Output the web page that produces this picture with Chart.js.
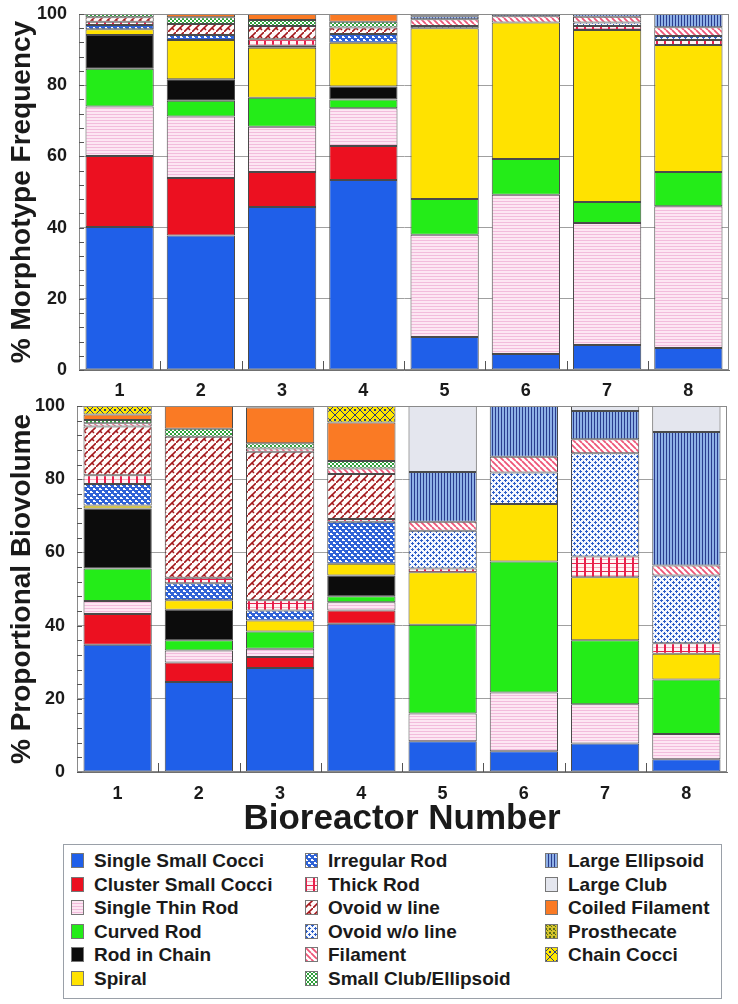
<!DOCTYPE html>
<html>
<head>
<meta charset="utf-8">
<script src="https://cdn.jsdelivr.net/npm/chart.js@4.4.1/dist/chart.umd.min.js"></script>
<style>
  body { margin: 0; background: #fff; width: 738px; height: 1004px; position: relative; overflow: hidden;
         font-family: "Liberation Sans", Arial, sans-serif; }
  #freqChart { position: absolute; left: 0; top: 0; }
  #bioChart { position: absolute; left: 0; top: 395px; }
  #legend { position: absolute; left: 63px; top: 844px; width: 659px; height: 155px;
            border: 1px solid #9aa0a8; box-sizing: border-box; }
  .item { position: absolute; height: 20px; font-weight: bold; font-size: 19px; color: #1a1a1a; white-space: nowrap; }
  .item canvas { position: absolute; left: 0; top: 2px; }
  .item span { position: absolute; left: 23px; top: 0; line-height: 20px; }
</style>
</head>
<body>
<canvas id="freqChart" width="738" height="420"></canvas>
<canvas id="bioChart" width="738" height="445"></canvas>
<div id="legend"></div>
<script>
const bioreactors = ['1', '2', '3', '4', '5', '6', '7', '8'];
const morphotypes = ['Single Small Cocci', 'Cluster Small Cocci', 'Single Thin Rod', 'Curved Rod', 'Rod in Chain', 'Spiral',
    'Irregular Rod', 'Thick Rod', 'Ovoid w line', 'Ovoid w/o line', 'Filament', 'Small Club/Ellipsoid',
    'Large Ellipsoid', 'Large Club', 'Coiled Filament', 'Prosthecate', 'Chain Cocci'];
const yTicks = [0, 20, 40, 60, 80, 100];

// % Morphotype Frequency (top panel)
const freqSingleSmallCocci  = [40.2, 37.8, 45.8, 53.4, 9.3, 4.5, 7.0, 6.2];
const freqClusterSmallCocci = [19.9, 16.1, 9.8, 9.5, 0, 0, 0, 0];
const freqSingleThinRod     = [13.9, 17.3, 12.7, 10.6, 28.7, 44.7, 34.3, 39.8];
const freqCurvedRod         = [10.6, 4.4, 8.2, 2.5, 10.0, 10.1, 5.9, 9.6];
const freqRodInChain        = [9.5, 6.1, 0, 3.6, 0, 0, 0, 0];
const freqSpiral            = [1.6, 11.0, 14.0, 12.3, 48.0, 38.3, 48.3, 35.7];
const freqIrregularRod      = [1.2, 1.4, 0.6, 2.5, 0, 0, 0, 0];
const freqThickRod          = [0.9, 0, 1.8, 0, 0, 0, 1.1, 1.4];
const freqOvoidLine         = [1.3, 3.1, 3.7, 1.8, 0, 0, 0, 0];
const freqOvoidNoLine       = [0, 0, 0, 0, 0.6, 0, 1.0, 1.1];
const freqFilament          = [0, 0, 0, 0, 1.9, 1.8, 1.6, 2.5];
const freqSmallClub         = [0.9, 1.9, 1.7, 1.6, 0, 0, 0, 0];
const freqLargeEllipsoid    = [0, 0, 0, 0, 0.9, 0.6, 0.8, 3.7];
const freqLargeClub         = [0, 0, 0, 0, 0.6, 0, 0, 0];
const freqCoiledFilament    = [0, 0.9, 1.7, 2.2, 0, 0, 0, 0];
const freqProsthecate       = [0, 0, 0, 0, 0, 0, 0, 0];
const freqChainCocci        = [0, 0, 0, 0, 0, 0, 0, 0];

// % Proportional Biovolume (bottom panel)
const bioSingleSmallCocci  = [34.8, 24.6, 28.4, 40.5, 8.4, 5.7, 7.8, 3.5];
const bioClusterSmallCocci = [8.4, 5.3, 3.0, 3.6, 0, 0, 0, 0];
const bioSingleThinRod     = [3.5, 3.3, 2.3, 2.3, 7.6, 16.0, 10.7, 6.9];
const bioCurvedRod         = [8.9, 2.8, 4.7, 1.6, 24.2, 35.8, 17.5, 14.9];
const bioRodInChain        = [16.4, 8.3, 0, 5.7, 0, 0, 0, 0];
const bioSpiral            = [0.8, 2.6, 3.0, 3.2, 14.4, 15.7, 17.2, 7.0];
const bioIrregularRod      = [5.9, 4.7, 2.7, 11.5, 0, 0, 0, 0];
const bioThickRod          = [2.4, 1.5, 2.8, 0.7, 1.0, 0, 5.7, 2.9];
const bioOvoidLine         = [13.3, 38.5, 40.6, 12.3, 0, 0, 0, 0];
const bioOvoidNoLine       = [0, 0, 0, 0, 10.3, 8.6, 28.2, 18.5];
const bioFilament          = [0.9, 0, 0.9, 1.5, 2.5, 4.3, 3.8, 2.7];
const bioSmallClub         = [0.9, 2.2, 1.4, 2.1, 0, 0, 0, 0];
const bioLargeEllipsoid    = [0, 0, 0, 0, 13.6, 13.9, 7.7, 36.5];
const bioLargeClub         = [0, 0, 0, 0, 18.0, 0, 1.4, 7.1];
const bioCoiledFilament    = [1.5, 6.2, 9.8, 10.5, 0, 0, 0, 0];
const bioProsthecate       = [0, 0, 0, 0, 0, 0, 0, 0];
const bioChainCocci        = [2.3, 0, 0.4, 4.5, 0, 0, 0, 0];

const freqSeries = [freqSingleSmallCocci, freqClusterSmallCocci, freqSingleThinRod, freqCurvedRod, freqRodInChain,
    freqSpiral, freqIrregularRod, freqThickRod, freqOvoidLine, freqOvoidNoLine, freqFilament, freqSmallClub,
    freqLargeEllipsoid, freqLargeClub, freqCoiledFilament, freqProsthecate, freqChainCocci];
const bioSeries = [bioSingleSmallCocci, bioClusterSmallCocci, bioSingleThinRod, bioCurvedRod, bioRodInChain,
    bioSpiral, bioIrregularRod, bioThickRod, bioOvoidLine, bioOvoidNoLine, bioFilament, bioSmallClub,
    bioLargeEllipsoid, bioLargeClub, bioCoiledFilament, bioProsthecate, bioChainCocci];

// fill patterns, one per morphotype
function tile(w, h, draw) {
    const c = document.createElement('canvas');
    c.width = w; c.height = h;
    const g = c.getContext('2d');
    draw(g, w, h);
    return c.getContext('2d').createPattern(c, 'repeat');
}

const fills = [
    '#1f5fe9',
    '#ec1020',
    tile(4, 3, (g, w, h) => { g.fillStyle = '#fde6f3'; g.fillRect(0, 0, w, h); g.fillStyle = '#f2bcdc'; g.fillRect(0, 0, w, 1); }),
    '#24ec18',
    '#0c0c0c',
    '#ffe200',
    tile(6, 6, (g, w, h) => {
        g.fillStyle = '#2f62d6'; g.fillRect(0, 0, w, h);
        g.fillStyle = '#ffffff';
        g.fillRect(0, 0, 2, 2); g.fillRect(3, 3, 2, 2); g.fillRect(2, 1, 1, 1); g.fillRect(5, 4, 1, 1);
    }),
    tile(8, 8, (g, w, h) => {
        g.fillStyle = '#fff4f6'; g.fillRect(0, 0, w, h);
        g.fillStyle = '#f6a8ba'; g.fillRect(0, 4, w, 1);
        g.fillStyle = '#e8204c'; g.fillRect(0, 0, 2, h); g.fillRect(0, 0, w, 1);
    }),
    tile(8, 8, (g, w, h) => {
        g.fillStyle = '#fffafa'; g.fillRect(0, 0, w, h);
        g.strokeStyle = '#a3161a'; g.lineWidth = 1.6;
        g.beginPath(); g.moveTo(0, 8); g.lineTo(4, 4); g.lineTo(6, 6); g.moveTo(4, 4); g.lineTo(8, 0); g.stroke();
    }),
    tile(6, 6, (g, w, h) => {
        g.fillStyle = '#f4f8ff'; g.fillRect(0, 0, w, h);
        g.fillStyle = '#2d5ec8';
        g.fillRect(1, 0, 1, 3); g.fillRect(0, 1, 3, 1); g.fillRect(4, 3, 1, 3); g.fillRect(3, 4, 3, 1);
    }),
    tile(6, 6, (g, w, h) => {
        g.fillStyle = '#ffffff'; g.fillRect(0, 0, w, h);
        g.strokeStyle = '#ee5577'; g.lineWidth = 1.8;
        g.beginPath();
        [-w, 0, w].forEach(k => { g.moveTo(k, 0); g.lineTo(k + w, h); });
        g.stroke();
    }),
    tile(4, 4, (g, w, h) => {
        g.fillStyle = '#ffffff'; g.fillRect(0, 0, w, h);
        g.fillStyle = '#2ea03a'; g.fillRect(0, 0, 2, 2); g.fillRect(2, 2, 2, 2);
    }),
    tile(3, 1, (g, w, h) => { g.fillStyle = '#8eb0e6'; g.fillRect(0, 0, w, h); g.fillStyle = '#2a3c8e'; g.fillRect(0, 0, 1, h); }),
    '#e4e6ee',
    '#fa7a24',
    tile(4, 4, (g, w, h) => {
        g.fillStyle = '#d4c42c'; g.fillRect(0, 0, w, h);
        g.fillStyle = '#5a6a1a'; g.fillRect(0, 0, 2, 2); g.fillRect(2, 2, 1, 1);
    }),
    tile(10, 10, (g, w, h) => {
        g.fillStyle = '#ffe600'; g.fillRect(0, 0, w, h);
        g.strokeStyle = '#2a3a7a'; g.lineWidth = 1;
        g.beginPath(); g.moveTo(0, 5); g.lineTo(5, 0); g.lineTo(10, 5); g.lineTo(5, 10); g.closePath(); g.stroke();
        g.fillStyle = '#2a3a7a'; g.fillRect(4, 4, 2, 2);
    })
];

Chart.defaults.font.family = '"Liberation Sans", Arial, sans-serif';
Chart.defaults.color = '#1a1a1a';

// plot frame, small inner ticks on y every 4 units, ticks between bioreactors
const axisDecor = {
    id: 'axisDecor',
    afterDatasetsDraw(chart) {
        const { ctx, chartArea: a, scales: { x, y } } = chart;
        ctx.save();
        ctx.strokeStyle = '#8a8a8a';
        ctx.lineWidth = 1;
        ctx.strokeRect(a.left + 0.5, a.top + 0.5, a.width - 1, a.height - 1);
        ctx.strokeStyle = '#555';
        ctx.beginPath();
        for (let v = 0; v <= 100; v += 4) {
            const py = Math.round(y.getPixelForValue(v)) + 0.5;
            ctx.moveTo(a.left, py); ctx.lineTo(a.left + 5, py);
        }
        for (let i = 0; i < bioreactors.length - 1; i++) {
            const px = Math.round((x.getPixelForTick(i) + x.getPixelForTick(i + 1)) / 2) + 0.5;
            ctx.moveTo(px, a.bottom); ctx.lineTo(px, a.bottom - 9);
        }
        ctx.stroke();
        ctx.restore();
    }
};

function buildChart(id, series, yTitle, opts) {
    const datasets = series.map((vals, i) => ({
        label: morphotypes[i],
        data: vals.map(v => v === 0 ? null : v),
        backgroundColor: fills[i],
        borderColor: '#4a4a4a',
        borderWidth: 1,
        borderSkipped: false,
        barPercentage: 1,
        categoryPercentage: 0.84
    }));
    return new Chart(document.getElementById(id), {
        type: 'bar',
        data: { labels: bioreactors, datasets: datasets },
        options: {
            responsive: false,
            animation: false,
            layout: { padding: { top: opts.top, right: opts.right, left: 0, bottom: 0 } },
            plugins: { legend: { display: false }, tooltip: { enabled: false } },
            scales: {
                x: {
                    stacked: true,
                    grid: { display: false },
                    border: { color: '#707070' },
                    ticks: { font: { size: 18, weight: 'bold' }, padding: opts.xPad },
                    title: opts.xTitle ? { display: true, text: opts.xTitle, font: { size: 35, weight: 'bold' },
                        padding: { top: 0, bottom: 0 } } : { display: false },
                    afterFit: s => { s.height = opts.xHeight; s.paddingLeft = 0; s.paddingRight = 0; }
                },
                y: {
                    stacked: true,
                    min: 0, max: 100,
                    afterBuildTicks: s => { s.ticks = yTicks.map(v => ({ value: v })); },
                    grid: { color: '#a0a0a0', drawTicks: false },
                    border: { color: '#707070' },
                    ticks: { font: { size: 18, weight: 'bold' }, padding: 12 },
                    title: { display: true, text: yTitle, font: { size: 28, weight: 'bold' }, padding: { top: 5, bottom: 0 } },
                    afterFit: s => { s.width = opts.yWidth; s.paddingTop = 0; s.paddingBottom = 0; }
                }
            }
        },
        plugins: [axisDecor]
    });
}

buildChart('freqChart', freqSeries, '% Morphotype Frequency',
    { top: 14, right: 9, xHeight: 50, xPad: 2, yWidth: 79 });
buildChart('bioChart', bioSeries, '% Proportional Biovolume',
    { top: 11, right: 11, xHeight: 68, xPad: 3, yWidth: 77, xTitle: 'Bioreactor Number' });

// legend box, three columns read top to bottom
const legend = document.getElementById('legend');
const colX = [7, 241, 481];
const rowY = [6, 29.5, 53, 76.5, 100, 123.5];
morphotypes.forEach((name, i) => {
    const col = Math.floor(i / 6), row = i % 6;
    const item = document.createElement('div');
    item.className = 'item';
    item.style.left = colX[col] + 'px';
    item.style.top = rowY[row] + 'px';
    const sw = document.createElement('canvas');
    sw.width = 13; sw.height = 15;
    const g = sw.getContext('2d');
    g.fillStyle = fills[i];
    g.fillRect(0, 0, 13, 15);
    g.strokeStyle = '#777';
    g.strokeRect(0.5, 0.5, 12, 14);
    const label = document.createElement('span');
    label.textContent = name;
    item.appendChild(sw);
    item.appendChild(label);
    legend.appendChild(item);
});
</script>
</body>
</html>
